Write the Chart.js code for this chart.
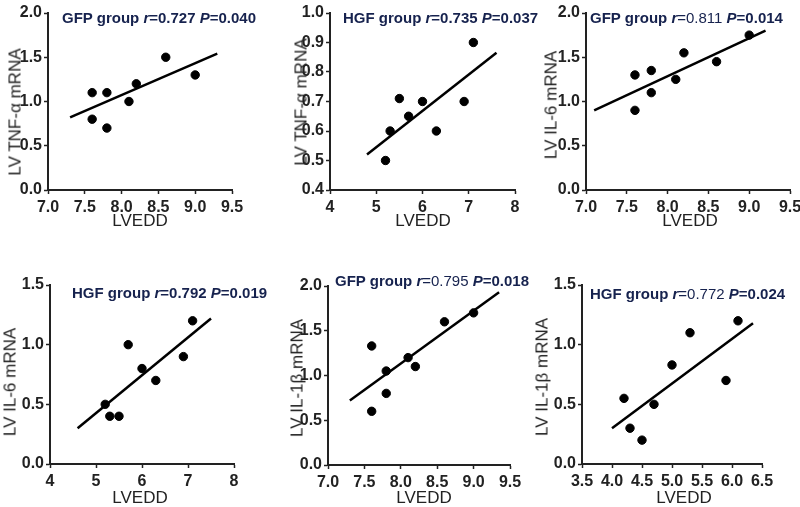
<!DOCTYPE html>
<html>
<head>
<meta charset="utf-8">
<script src="https://cdn.jsdelivr.net/npm/chart.js@4/dist/chart.umd.min.js"></script>
<style>
  html, body { margin:0; padding:0; background:#fff; width:800px; height:507px; overflow:hidden; }
  #wrap { position:relative; width:800px; height:507px; }
  canvas { position:absolute; }
  .ttl { position:absolute; font-family:"Liberation Sans", Arial, sans-serif; font-weight:bold; font-size:15px; color:#16224e; white-space:nowrap; line-height:1; }
  .ttl .n { font-weight:normal; }
  .ytl { position:absolute; font-family:"Liberation Sans", Arial, sans-serif; font-size:17px; color:#222; white-space:nowrap; line-height:1; transform:translate(-50%,-50%) rotate(-90deg); }
  .xtl { position:absolute; font-family:"Liberation Sans", Arial, sans-serif; font-size:17px; color:#222; white-space:nowrap; line-height:1; transform:translate(-50%,-50%); }
</style>
</head>
<body>
<div id="wrap"></div>
<script>
// ---------- DATA ----------
// Panel 1: GFP group, LV TNF-α mRNA vs LVEDD
const p1X = [7.6, 7.6, 7.8, 7.8, 8.1, 8.2, 8.6, 9.0];
const p1Y = [1.1, 0.8, 1.1, 0.7, 1.0, 1.2, 1.5, 1.3];
const p1Fit = [[7.3, 0.82], [9.3, 1.54]];
const p1XTicks = [7.0, 7.5, 8.0, 8.5, 9.0, 9.5];
const p1YTicks = [0.0, 0.5, 1.0, 1.5, 2.0];

// Panel 2: HGF group, LV TNF-α mRNA vs LVEDD
const p2X = [5.2, 5.3, 5.5, 5.7, 6.0, 6.3, 6.9, 7.1];
const p2Y = [0.5, 0.6, 0.71, 0.65, 0.7, 0.6, 0.7, 0.9];
const p2Fit = [[4.8, 0.52], [7.6, 0.865]];
const p2XTicks = [4, 5, 6, 7, 8];
const p2YTicks = [0.4, 0.5, 0.6, 0.7, 0.8, 0.9, 1.0];

// Panel 3: GFP group, LV IL-6 mRNA vs LVEDD
const p3X = [7.6, 7.6, 7.8, 7.8, 8.1, 8.2, 8.6, 9.0];
const p3Y = [1.3, 0.9, 1.35, 1.1, 1.25, 1.55, 1.45, 1.75];
const p3Fit = [[7.1, 0.9], [9.2, 1.8]];
const p3XTicks = [7.0, 7.5, 8.0, 8.5, 9.0, 9.5];
const p3YTicks = [0.0, 0.5, 1.0, 1.5, 2.0];

// Panel 4: HGF group, LV IL-6 mRNA vs LVEDD
const p4X = [5.2, 5.3, 5.5, 5.7, 6.0, 6.3, 6.9, 7.1];
const p4Y = [0.5, 0.4, 0.4, 1.0, 0.8, 0.7, 0.9, 1.2];
const p4Fit = [[4.6, 0.3], [7.5, 1.22]];
const p4XTicks = [4, 5, 6, 7, 8];
const p4YTicks = [0.0, 0.5, 1.0, 1.5];

// Panel 5: GFP group, LV IL-1β mRNA vs LVEDD
const p5X = [7.6, 7.6, 7.8, 7.8, 8.1, 8.2, 8.6, 9.0];
const p5Y = [1.33, 0.6, 1.05, 0.8, 1.2, 1.1, 1.6, 1.7];
const p5Fit = [[7.3, 0.72], [9.35, 1.93]];
const p5XTicks = [7.0, 7.5, 8.0, 8.5, 9.0, 9.5];
const p5YTicks = [0.0, 0.5, 1.0, 1.5, 2.0];

// Panel 6: HGF group, LV IL-1β mRNA vs LVEDD
const p6X = [4.2, 4.3, 4.5, 4.7, 5.0, 5.3, 5.9, 6.1];
const p6Y = [0.55, 0.3, 0.2, 0.5, 0.83, 1.1, 0.7, 1.2];
const p6Fit = [[4.0, 0.3], [6.35, 1.18]];
const p6XTicks = [3.5, 4.0, 4.5, 5.0, 5.5, 6.0, 6.5];
const p6YTicks = [0.0, 0.5, 1.0, 1.5];

const groups = ["GFP group", "HGF group", "GFP group", "HGF group", "GFP group", "HGF group"];
const rVals = ["0.727", "0.735", "0.811", "0.792", "0.795", "0.772"];
const pVals = ["0.040", "0.037", "0.014", "0.019", "0.018", "0.024"];
const yTitles = ["LV TNF-α mRNA", "LV TNF-α mRNA", "LV IL-6 mRNA", "LV IL-6 mRNA", "LV IL-1β mRNA", "LV IL-1β mRNA"];
const xTitle = "LVEDD";

// ---------- LAYOUT ----------
const panels = [
  { X:p1X, Y:p1Y, fit:p1Fit, xt:p1XTicks, yt:p1YTicks, xd:1, yd:1, L:48,  R:232, T:13,  B:190, title:[62,10],  rBold:true,  yT:[15,112],  xT:[140,220] },
  { X:p2X, Y:p2Y, fit:p2Fit, xt:p2XTicks, yt:p2YTicks, xd:0, yd:1, L:330, R:515, T:13,  B:190, title:[343,10], rBold:true,  yT:[301,102], xT:[423,220] },
  { X:p3X, Y:p3Y, fit:p3Fit, xt:p3XTicks, yt:p3YTicks, xd:1, yd:1, L:586, R:790, T:13,  B:190, title:[590,10], rBold:false, yT:[551,105], xT:[690,220] },
  { X:p4X, Y:p4Y, fit:p4Fit, xt:p4XTicks, yt:p4YTicks, xd:0, yd:1, L:50,  R:234, T:285, B:464, title:[72,285], rBold:true,  yT:[10,382],  xT:[140,497] },
  { X:p5X, Y:p5Y, fit:p5Fit, xt:p5XTicks, yt:p5YTicks, xd:1, yd:1, L:328, R:510, T:286, B:465, title:[335,273],rBold:false, yT:[297,378], xT:[424,497] },
  { X:p6X, Y:p6Y, fit:p6Fit, xt:p6XTicks, yt:p6YTicks, xd:1, yd:1, L:582, R:762, T:285, B:464, title:[590,286],rBold:false, yT:[542,377], xT:[684,497] }
];

const wrap = document.getElementById('wrap');
const PADL = 50, PADT = 12, PADR = 20, PADB = 40;
const FONT = "'Liberation Sans', Arial, sans-serif";
const AX = '#222';

panels.forEach((p, i) => {
  const cv = document.createElement('canvas');
  const w = (p.R - p.L) + PADL + PADR;
  const h = (p.B - p.T) + PADT + PADB;
  cv.width = w; cv.height = h;
  cv.style.left = (p.L - PADL) + 'px';
  cv.style.top = (p.T - PADT) + 'px';
  cv.style.width = w + 'px'; cv.style.height = h + 'px';
  wrap.appendChild(cv);

  const pts = p.X.map((x, k) => ({ x: x, y: p.Y[k] }));
  const fitPts = p.fit.map(a => ({ x: a[0], y: a[1] }));

  new Chart(cv.getContext('2d'), {
    data: {
      datasets: [
        { type: 'line', data: fitPts, borderColor: '#000', borderWidth: 2.5, pointRadius: 0, fill: false, tension: 0 },
        { type: 'scatter', data: pts, backgroundColor: '#000', borderColor: '#000', pointRadius: 4.2, pointHoverRadius: 4.2 }
      ]
    },
    options: {
      responsive: false, animation: false, devicePixelRatio: 1,
      layout: { padding: { left: 0, top: PADT, right: PADR, bottom: 0 } },
      plugins: { legend: { display: false }, tooltip: { enabled: false }, title: { display: false } },
      scales: {
        x: {
          type: 'linear', min: p.xt[0], max: p.xt[p.xt.length - 1],
          afterFit: s => { s.height = PADB; },
          afterBuildTicks: s => { s.ticks = p.xt.map(v => ({ value: v })); },
          ticks: { color: AX, font: { family: FONT, size: 16, weight: 'bold' }, padding: 4, maxRotation: 0, autoSkip: false,
                   callback: v => Number(v).toFixed(p.xd) },
          grid: { drawOnChartArea: false, drawTicks: true, tickLength: 4, color: AX, tickColor: AX, tickWidth: 1.5 },
          border: { display: true, color: AX, width: 2 }
        },
        y: {
          type: 'linear', min: p.yt[0], max: p.yt[p.yt.length - 1],
          afterFit: s => { s.width = PADL; },
          afterBuildTicks: s => { s.ticks = p.yt.map(v => ({ value: v })); },
          ticks: { color: AX, font: { family: FONT, size: 16, weight: 'bold' }, padding: 2, autoSkip: false,
                   callback: v => Number(v).toFixed(p.yd) },
          grid: { drawOnChartArea: false, drawTicks: true, tickLength: 4, color: AX, tickColor: AX, tickWidth: 1.5 },
          border: { display: true, color: AX, width: 2 }
        }
      }
    }
  });

  const t = document.createElement('div');
  t.className = 'ttl';
  t.style.left = p.title[0] + 'px';
  t.style.top = p.title[1] + 'px';
  const rs = p.rBold ? '' : ' class="n"';
  t.innerHTML = groups[i] + ' <i>r</i><span' + rs + '>=' + rVals[i] + '</span> <i>P</i>=' + pVals[i];
  wrap.appendChild(t);

  const yl = document.createElement('div');
  yl.className = 'ytl';
  yl.style.left = p.yT[0] + 'px';
  yl.style.top = p.yT[1] + 'px';
  yl.textContent = yTitles[i];
  wrap.appendChild(yl);

  const xl = document.createElement('div');
  xl.className = 'xtl';
  xl.style.left = p.xT[0] + 'px';
  xl.style.top = p.xT[1] + 'px';
  xl.textContent = xTitle;
  wrap.appendChild(xl);
});
</script>
</body>
</html>
